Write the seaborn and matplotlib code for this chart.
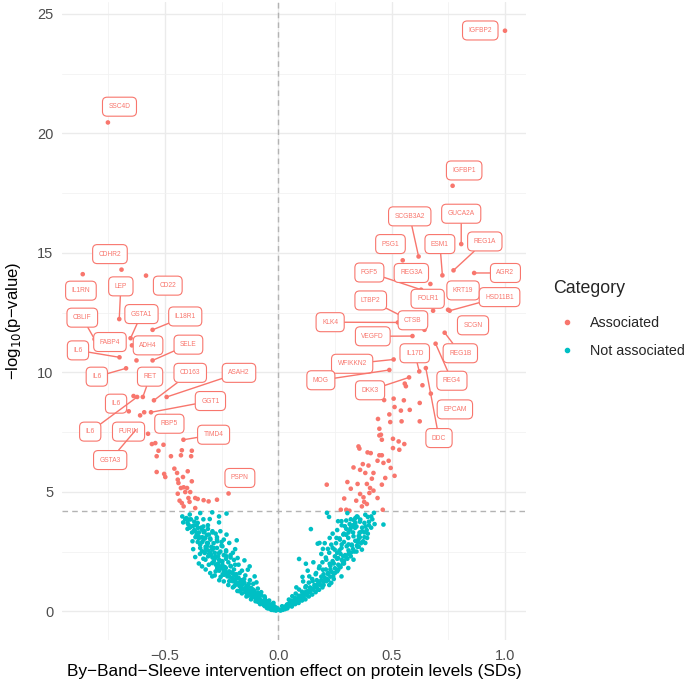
import numpy as np
import pandas as pd
import matplotlib
matplotlib.use("Agg")
import matplotlib.pyplot as plt
from matplotlib.lines import Line2D
import seaborn as sns

# Labelled proteins (effect in SDs, -log10 p)
genes = ["IGFBP2", "SSC4D", "IGFBP1", "CDHR2", "IL1RN", "CD22", "LEP", "IL18R1",
         "GSTA1", "CBLIF", "FABP4", "ADH4", "IL6", "SELE", "IL6", "RET", "CD163",
         "ASAH2", "IL6", "GGT1", "IL6", "FURIN", "RBP5", "TIMD4", "GSTA3", "PSPN",
         "SCGB3A2", "GUCA2A", "PSG1", "ESM1", "REG1A", "AGR2", "FGF5", "REG3A",
         "KRT19", "FOLR1", "HSD11B1", "SCGN", "LTBP2", "KLK4", "CTSB", "VEGFD",
         "REG1B", "REG4", "IL17D", "WFIKKN2", "MOG", "DKK3", "EPCAM", "DDC"]
gene_x = [1.0, -0.751, 0.769, -0.691, -0.862, -0.583, -0.701, -0.554,
          -0.651, -0.810, -0.645, -0.625, -0.700, -0.554, -0.671, -0.597, -0.548,
          -0.492, -0.659, -0.561, -0.622, -0.609, -0.591, -0.418, -0.627, -0.219,
          0.619, 0.807, 0.549, 0.724, 0.773, 0.864, 0.630, 0.671,
          0.700, 0.683, 0.756, 0.749, 0.548, 0.528, 0.645, 0.592,
          0.734, 0.694, 0.622, 0.509, 0.490, 0.577, 0.673, 0.651]
gene_y = [24.3, 20.46, 17.81, 14.3, 14.11, 14.05, 12.23, 11.78,
          11.43, 11.39, 11.13, 10.5, 10.63, 10.5, 10.17, 8.97, 8.83,
          8.97, 8.37, 8.33, 8.97, 8.2, 8.33, 7.18, 7.6, 4.93,
          14.85, 15.37, 14.69, 14.06, 14.27, 14.16, 13.46, 13.7,
          12.8, 12.58, 12.58, 12.62, 12.34, 12.09, 11.78, 11.52,
          11.66, 11.2, 10.04, 10.54, 10.1, 9.79, 9.11, 10.18]

# Other significant proteins
assoc_x = [-0.638, -0.574, -0.557, -0.542, -0.506, -0.528, -0.536, -0.473, -0.429,
           -0.425, -0.381, -0.384, -0.458, -0.446, -0.536, -0.503, -0.498, -0.399,
           -0.420, -0.443, -0.440, -0.381, -0.417, -0.429, -0.402, -0.443, -0.410,
           -0.388, -0.435, -0.396, -0.391, -0.366, -0.355, -0.329, -0.307, -0.270,
           -0.417, -0.366, -0.425,
           0.558, 0.563, 0.636, 0.467, 0.509, 0.554, 0.624, 0.513, 0.541, 0.580, 0.490,
           0.440, 0.494, 0.544, 0.624, 0.446, 0.453,
           0.446, 0.457, 0.506, 0.531, 0.556, 0.534, 0.506, 0.354, 0.358, 0.394,
           0.408, 0.446, 0.457, 0.438, 0.464, 0.487, 0.496, 0.332, 0.373, 0.398,
           0.361, 0.384, 0.420, 0.513, 0.472, 0.305, 0.413, 0.350, 0.391, 0.457,
           0.320, 0.405, 0.420, 0.402, 0.361, 0.376, 0.291, 0.344, 0.379, 0.438,
           0.391, 0.369, 0.276, 0.300, 0.314, 0.461, 0.214]
assoc_y = [9.01, 7.43, 7.0, 7.04, 6.97, 6.72, 6.49, 6.49, 6.53,
           6.74, 6.72, 6.49, 5.97, 5.79, 5.83, 5.75, 5.62, 5.86,
           5.62, 5.51, 5.37, 5.44, 5.19, 5.16, 5.16, 4.92, 4.99,
           4.99, 4.63, 4.74, 4.58, 4.74, 4.70, 4.65, 4.6, 4.67,
           4.39, 4.32, 4.53,
           9.53, 9.42, 9.46, 8.84, 8.9, 8.83, 8.72, 8.55, 8.4, 8.43, 8.24,
           8.05, 7.92, 7.95, 7.95, 7.64, 7.39,
           7.36, 7.18, 7.22, 7.11, 7.0, 6.76, 6.83, 6.9, 6.81, 6.65,
           6.62, 6.53, 6.53, 6.30, 6.21, 6.30, 6.0, 6.02, 6.16, 6.1,
           5.92, 5.79, 5.79, 5.67, 5.58, 5.41, 5.55, 5.33, 5.33, 5.30,
           5.13, 5.16, 5.05, 4.95, 4.91, 4.77, 4.72, 4.63, 4.58, 4.74,
           4.49, 4.39, 4.25, 4.25, 4.21, 4.25, 5.30]

# Non-significant proteins, left arm then right arm
null_x = [-0.344, -0.291, -0.228, -0.423, -0.261, -0.393, -0.419, -0.302, -0.261,
          -0.396, -0.374, -0.354, -0.336, -0.366, -0.329, -0.306, -0.276, -0.228,
          -0.351, -0.321, -0.378, -0.299, -0.269, -0.183, -0.216, -0.344, -0.314,
          -0.284, -0.246, -0.336, -0.366, -0.299, -0.261, -0.228, -0.179, -0.149,
          -0.321, -0.284, -0.246, -0.336, -0.306, -0.261, -0.209, -0.126, -0.134,
          -0.276, -0.239, -0.201, -0.291, -0.254, -0.186, -0.104, -0.216, -0.156,
          -0.096, -0.194, -0.141, -0.111, -0.171, -0.126, -0.081, -0.059, -0.096,
          -0.051, -0.021, -0.066, -0.028, -0.006, 0.001,
          -0.329, -0.314, -0.291, -0.276, -0.261, -0.246, -0.231, -0.216, -0.194,
          -0.179, -0.164, -0.149, -0.134, -0.119, -0.104, -0.089, -0.074, -0.059,
          -0.044, -0.036, -0.018, -0.081, -0.111, -0.141, -0.164, -0.183, -0.201,
          -0.224, -0.239, -0.269, -0.291, -0.309, -0.324, -0.344,
          -0.012, -0.03, -0.045, -0.055, -0.07, -0.085, -0.1, -0.115, -0.13, -0.15,
          -0.16, -0.175, -0.19, -0.205, -0.22, -0.235, -0.25, -0.265, -0.28, -0.295,
          -0.31, -0.32, -0.335, -0.35, -0.36, -0.37, -0.385, -0.4, -0.41, -0.355,
          -0.33, -0.31, -0.29, -0.27, -0.25, -0.23, -0.21, -0.195, -0.175, -0.16,
          -0.145, -0.125, -0.11, -0.09, -0.075, -0.06, -0.04, -0.025, -0.015,
          -0.2, -0.19, -0.24, -0.255, -0.36, -0.39,
          -0.02, -0.035, -0.05, -0.04, -0.06, -0.065, -0.08, -0.075, -0.09, -0.095,
          -0.1, -0.115, -0.12, -0.13, -0.135, -0.14, -0.145, -0.155, -0.16, -0.165,
          -0.17, -0.175, -0.18, -0.185, -0.19, -0.195, -0.2, -0.205, -0.21, -0.215,
          -0.22, -0.225, -0.23, -0.235, -0.24, -0.245, -0.25, -0.255, -0.26, -0.265,
          -0.27, -0.275, -0.28, -0.285, -0.29, -0.295, -0.3, -0.305, -0.31, -0.315,
          -0.32, -0.325, -0.33, -0.335, -0.34, -0.345, -0.35, -0.355, -0.36, -0.365,
          -0.37, -0.375, -0.38, -0.385, -0.39, -0.4, -0.405, -0.35, -0.32, -0.3,
          -0.28, -0.26, -0.24, -0.22, -0.2, -0.18, -0.16, -0.14, -0.12, -0.1,
          -0.08, -0.06, -0.045, -0.03, -0.01, -0.025, -0.055, -0.085, -0.11, -0.13,
          -0.15, -0.17, -0.19, -0.21, -0.23, -0.25, -0.27, -0.29, -0.31, -0.33,
          0.215, 0.224, 0.144, 0.264, 0.279, 0.305, 0.347, 0.362, 0.384, 0.410,
          0.422, 0.464, 0.294, 0.317, 0.339, 0.359, 0.380, 0.287, 0.309, 0.332,
          0.354, 0.374, 0.392, 0.272, 0.257, 0.227, 0.234, 0.174, 0.182, 0.197,
          0.219, 0.249, 0.279, 0.302, 0.324, 0.347, 0.369, 0.384, 0.092, 0.122,
          0.182, 0.212, 0.227, 0.264, 0.287, 0.309, 0.332, 0.260, 0.279, 0.242,
          0.219, 0.197, 0.167, 0.137, 0.107, 0.152, 0.182, 0.212, 0.234, 0.122,
          0.092, 0.144, 0.174, 0.062, 0.077, 0.107, 0.129, 0.047, 0.084, 0.017,
          0.039, 0.002, 0.032,
          0.02, 0.05, 0.07, 0.09, 0.1, 0.12, 0.14, 0.16, 0.17, 0.19, 0.2, 0.21,
          0.23, 0.24, 0.25, 0.26, 0.27, 0.28, 0.29, 0.3, 0.31, 0.32, 0.33, 0.34,
          0.06, 0.09, 0.12, 0.15, 0.18, 0.2, 0.22, 0.25, 0.27, 0.29, 0.31, 0.33,
          0.35, 0.36, 0.37, 0.38, 0.34, 0.3, 0.035, 0.075, 0.105, 0.135, 0.165,
          0.195, 0.225, 0.245, 0.265, 0.285, 0.3, 0.32, 0.345, 0.355, 0.36, 0.39,
          0.4, 0.32, 0.28, 0.26, 0.24, 0.205, 0.19, 0.155, 0.13, 0.11, 0.08,
          0.01, 0.02, 0.03, 0.04, 0.025, 0.045, 0.055, 0.05, 0.065, 0.07,
          0.08, 0.085, 0.095, 0.1, 0.11, 0.115, 0.125, 0.13, 0.14, 0.145,
          0.155, 0.16, 0.17, 0.175, 0.185, 0.19, 0.2, 0.205, 0.215, 0.22,
          0.23, 0.235, 0.245, 0.25, 0.26, 0.265, 0.275, 0.28, 0.29, 0.295,
          0.305, 0.31, 0.32, 0.325, 0.335, 0.34, 0.35, 0.355, 0.365, 0.37,
          0.38, 0.385, 0.395, 0.4, 0.41, 0.415, 0.425, 0.3, 0.315, 0.335,
          0.35, 0.29, 0.27, 0.255, 0.24, 0.225, 0.21, 0.195, 0.18, 0.165,
          0.15, 0.135, 0.12, 0.105, 0.09, 0.075, 0.06, 0.04, 0.03, 0.275,
          0.26, 0.245, 0.23, 0.31, 0.33, 0.345, 0.36, 0.395]
null_y = [4.11, 4.14, 4.09, 3.97, 3.97, 3.84, 3.72, 3.86, 3.72,
          3.63, 3.58, 3.49, 3.42, 3.35, 3.31, 3.21, 3.25, 3.21,
          3.14, 3.07, 2.93, 3.0, 2.93, 2.97, 2.86, 2.79, 2.72,
          2.65, 2.72, 2.51, 2.27, 2.44, 2.44, 2.30, 2.23, 2.13,
          2.16, 2.09, 2.09, 1.88, 1.95, 1.88, 1.88, 1.88, 1.74,
          1.67, 1.67, 1.60, 1.46, 1.44, 1.46, 1.46, 1.26, 1.19,
          1.21, 1.05, 0.98, 0.91, 0.84, 0.74, 0.70, 0.56, 0.49,
          0.42, 0.35, 0.28, 0.21, 0.14, 0.07,
          3.0, 2.86, 2.58, 2.30, 2.16, 1.95, 1.81, 1.67, 1.53,
          1.39, 1.30, 1.19, 1.07, 0.98, 0.84, 0.77, 0.66, 0.46,
          0.35, 0.28, 0.21, 0.49, 0.63, 0.77, 0.93, 1.12, 1.26,
          1.46, 1.53, 1.81, 2.02, 2.30, 2.44, 2.65,
          0.08, 0.12, 0.2, 0.25, 0.36, 0.42, 0.55, 0.7, 0.85, 0.95,
          1.1, 1.2, 1.3, 1.4, 1.55, 1.7, 1.8, 2.0, 2.2, 2.35,
          2.55, 2.7, 2.9, 3.05, 3.2, 3.4, 3.55, 3.7, 3.85, 3.7,
          3.55, 3.45, 3.35, 3.1, 2.9, 2.55, 2.35, 2.15, 1.95, 1.7,
          1.5, 1.3, 1.15, 0.95, 0.8, 0.62, 0.45, 0.3, 0.18,
          2.45, 2.6, 3.0, 3.35, 3.9, 4.05,
          0.05, 0.1, 0.14, 0.2, 0.22, 0.33, 0.3, 0.45, 0.4, 0.6,
          0.7, 0.58, 0.78, 0.66, 0.9, 1.05, 0.82, 1.15, 0.92, 1.25,
          1.05, 1.4, 1.15, 1.55, 1.22, 1.75, 1.35, 1.62, 1.9, 1.45,
          2.05, 1.6, 2.2, 1.85, 2.35, 1.55, 2.1, 2.5, 1.7, 2.3,
          2.65, 1.95, 2.45, 2.85, 2.25, 2.7, 3.05, 2.4, 2.85, 3.2,
          2.6, 3.35, 2.2, 3.1, 3.5, 2.4, 3.3, 2.9, 3.6, 3.1,
          3.75, 2.6, 3.3, 3.85, 3.5, 3.45, 3.9, 2.0, 1.75, 1.6,
          1.5, 1.3, 1.25, 1.1, 1.0, 0.85, 0.75, 0.62, 0.5, 0.42,
          0.35, 0.25, 0.12, 0.06, 0.03, 0.16, 0.38, 0.55, 0.85, 1.15,
          1.35, 1.6, 1.95, 2.25, 2.5, 2.75, 3.0, 3.3, 3.6, 3.85,
          4.12, 3.95, 3.44, 3.77, 3.77, 4.11, 3.97, 3.84, 4.04, 3.97,
          4.12, 3.63, 3.56, 3.42, 3.49, 3.28, 3.30, 3.21, 3.07, 3.14,
          3.0, 2.93, 3.07, 3.0, 3.07, 3.07, 2.79, 2.83, 2.86, 2.61,
          2.61, 2.58, 2.65, 2.72, 2.79, 2.75, 2.58, 2.86, 2.19, 1.99,
          1.88, 2.16, 1.99, 2.23, 2.30, 1.81, 2.16, 1.67, 1.46, 1.46,
          1.60, 1.74, 1.60, 1.46, 1.44, 1.26, 1.19, 1.26, 1.19, 1.05,
          0.91, 0.94, 0.91, 0.63, 0.74, 0.70, 0.77, 0.49, 0.49, 0.21,
          0.28, 0.07, 0.14,
          0.1, 0.3, 0.45, 0.55, 0.65, 0.8, 1.0, 1.1, 1.3, 1.45, 1.55, 1.75,
          1.9, 2.1, 2.3, 2.45, 2.55, 2.8, 2.9, 3.2, 3.3, 3.5, 3.6, 3.7,
          0.2, 0.35, 0.5, 0.7, 0.9, 1.1, 1.3, 1.6, 1.9, 2.1, 2.4, 2.6,
          2.9, 3.3, 3.5, 3.7, 3.9, 3.8, 0.18, 0.3, 0.45, 0.62, 0.8,
          1.0, 1.1, 1.35, 1.75, 2.0, 2.25, 2.45, 2.5, 2.7, 3.1, 3.4,
          3.6, 3.85, 3.6, 3.4, 3.25, 2.85, 2.4, 2.05, 1.7, 1.25, 1.0,
          0.03, 0.06, 0.09, 0.12, 0.16, 0.2, 0.24, 0.35, 0.3, 0.4,
          0.38, 0.52, 0.48, 0.6, 0.58, 0.72, 0.68, 0.85, 0.8, 0.95,
          0.9, 1.05, 1.0, 1.15, 1.1, 1.3, 1.25, 1.4, 1.35, 1.55,
          1.45, 1.65, 1.6, 1.8, 1.7, 1.95, 1.85, 2.15, 2.0, 2.35,
          2.2, 2.55, 2.3, 2.75, 2.5, 2.95, 2.7, 3.15, 2.85, 3.35,
          3.1, 3.55, 3.25, 3.75, 3.5, 3.85, 3.65, 3.45, 3.65, 3.8,
          3.95, 3.25, 3.05, 2.85, 2.65, 2.45, 2.25, 2.05, 1.8, 1.55,
          1.35, 1.2, 1.0, 0.82, 0.65, 0.55, 0.45, 0.28, 0.2, 2.4,
          2.2, 2.0, 1.75, 2.8, 3.3, 3.55, 3.75, 3.95]

threshold = 4.18

# Where each label box sits (same order as genes)
label_x = [0.891, -0.700, 0.820, -0.742, -0.870, -0.487, -0.694, -0.410,
           -0.603, -0.864, -0.742, -0.574, -0.883, -0.396, -0.800, -0.565, -0.388,
           -0.173, -0.715, -0.299, -0.829, -0.660, -0.480, -0.285, -0.741, -0.169,
           0.580, 0.807, 0.495, 0.713, 0.911, 1.002, 0.402, 0.587,
           0.815, 0.659, 0.976, 0.859, 0.408, 0.229, 0.594, 0.417,
           0.803, 0.766, 0.602, 0.326, 0.188, 0.405, 0.779, 0.709]
label_y = [24.31, 21.12, 18.45, 14.95, 13.42, 13.63, 13.6, 12.34,
           12.44, 12.29, 11.27, 11.13, 10.92, 11.16, 9.82, 9.82, 9.98,
           9.98, 8.69, 8.8, 7.52, 7.52, 7.85, 7.39, 6.33, 5.58,
           16.53, 16.64, 15.37, 15.37, 15.48, 14.16, 14.18, 14.16,
           13.43, 13.08, 13.15, 11.97, 13.01, 12.1, 12.18, 11.51,
           10.8, 9.65, 10.8, 10.36, 9.67, 9.25, 8.45, 7.25]

red = "#F8766D"
teal = "#00BFC4"

df = pd.DataFrame({
    "effect": gene_x + assoc_x + null_x,
    "logp": gene_y + assoc_y + null_y,
})
df["Category"] = np.where(df["logp"] > threshold, "Associated", "Not associated")

sns.set_theme(style="whitegrid")
plt.rcParams["font.family"] = ["Liberation Sans", "DejaVu Sans"]

fig = plt.figure(figsize=(6.85, 6.83), dpi=100)
ax = fig.add_axes([0.090, 0.0625, 0.678, 0.9345])

sns.scatterplot(data=df, x="effect", y="logp", hue="Category",
                palette={"Associated": red, "Not associated": teal},
                s=11, linewidth=0, legend=False, ax=ax, zorder=3)

ax.set_xlim(-0.955, 1.093)
ax.set_ylim(-1.215, 25.5)
ax.set_xticks([-0.5, 0.0, 0.5, 1.0])
ax.set_xticklabels(["\u22120.5", "0.0", "0.5", "1.0"])
ax.set_yticks([0, 5, 10, 15, 20, 25])
ax.set_xticks([-0.75, -0.25, 0.25, 0.75], minor=True)
ax.set_yticks([2.5, 7.5, 12.5, 17.5, 22.5], minor=True)
ax.grid(which="major", color="#EBEBEB", lw=1.0)
ax.grid(which="minor", color="#F2F2F2", lw=0.6)
for s in ax.spines.values():
    s.set_visible(False)
ax.tick_params(axis="x", which="both", length=0, labelsize=10.5,
               labelcolor="#4D4D4D", pad=6)
ax.tick_params(axis="y", which="both", length=0, labelsize=10.5,
               labelcolor="#4D4D4D", pad=6)

ax.axvline(0, color="#B3B3B3", ls=(0, (4, 3)), lw=1.0, zorder=1)
ax.axhline(threshold, color="#B3B3B3", ls=(0, (4, 3)), lw=1.0, zorder=1)

ax.set_xlabel("By\u2212Band\u2212Sleeve intervention effect on protein levels (SDs)",
              fontsize=12.4, color="black", labelpad=1)
ax.set_ylabel("\u2212log$_{10}$(p\u2212value)", fontsize=12, color="black", labelpad=10)

# labels with repel-style boxes; segment only when the point is away from the box
for g, px, py, lx, ly in zip(genes, gene_x, gene_y, label_x, label_y):
    p = ax.transData.transform((px, py))
    q = ax.transData.transform((lx, ly))
    hw = len(g) * 2.1 + 7
    hh = 8
    gap = max(abs(p[0] - q[0]) - hw, abs(p[1] - q[1]) - hh)
    arrow = dict(arrowstyle="-", color=red, lw=1.0, shrinkA=0, shrinkB=0) if gap > 10 else None
    ax.annotate(g, xy=(px, py), xytext=(lx, ly), ha="center", va="center",
                fontsize=4.8, color=red, zorder=5,
                bbox=dict(boxstyle="round,pad=0.9,rounding_size=0.7",
                          fc="white", ec=red, lw=0.8),
                arrowprops=arrow)

# legend: title as its own text, keys below
fig.text(553 / 685, 1 - 289 / 683, "Category", fontsize=12.8, va="center", ha="left")
handles = [Line2D([], [], marker="o", ls="", color=red, markersize=3),
           Line2D([], [], marker="o", ls="", color=teal, markersize=3)]
leg = fig.legend(handles, ["Associated", "Not associated"],
                 loc="upper left", bbox_to_anchor=(553 / 685, 1 - 316 / 683),
                 frameon=False, fontsize=10.3, labelspacing=0.96,
                 handletextpad=0.63, handlelength=1.96, borderpad=0,
                 borderaxespad=0)

fig.savefig("out.png", dpi=100)
